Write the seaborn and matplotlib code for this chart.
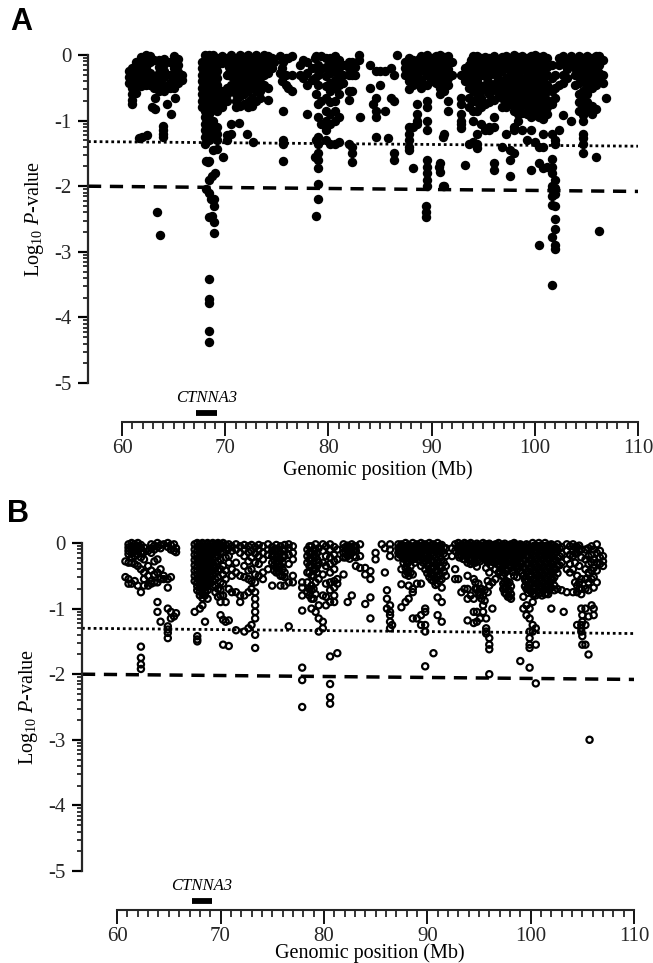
import numpy as np
import pandas as pd
import matplotlib
matplotlib.use('Agg')
import matplotlib.pyplot as plt
import seaborn as sns

# panel A, SNP positions (Mb) with the log10 P-values read at each position
a1_pos = [60.7, 61.0, 61.4, 61.8, 62.3, 62.7, 63.1, 63.6, 64.1, 64.6, 65.0, 65.4, 65.8,
          62.9, 63.2, 64.4, 65.1, 64.7, 61.6, 61.9, 62.4, 64.0, 63.4, 63.7]
a1_logp = [[-.25, -.33, -.42], [-.2, -.3, -.4, -.5, -.6, -.68, -.75], [-.1, -.2, -.3, -.38, -.48, -.58],
           [-.03, -.12, -.22, -.3, -.4, -.48], [0, -.08, -.18, -.3, -.38, -.46], [-.02, -.1, -.28, -.36, -.45],
           [-.08, -.32, -.42, -.5], [-.08, -.18, -.28, -.38, -.5, -.55], [-.06, -.14, -.24, -.34, -.47, -.55],
           [-.1, -.3, -.42, -.5], [-.02, -.1, -.2, -.32, -.42, -.5], [-.06, -.16, -.26, -.34, -.42], [-.3, -.38],
           [-.8], [-.65, -.83], [-.75], [-.65], [-.9], [-1.26], [-1.25], [-1.22], [-1.08, -1.14, -1.2, -1.25],
           [-2.4], [-2.75]]

a2_pos = [67.7, 68.0, 68.4, 68.8, 69.2, 68.1, 68.3, 68.8, 69.2, 69.8, 68.7, 69.0, 68.6, 68.9, 68.4]
a2_logp = [[-.1, -.2, -.3, -.4, -.5, -.6, -.7, -.8],
           [0, -.08, -.16, -.25, -.35, -.45, -.55, -.65, -.75, -.85, -.95, -1.05, -1.15, -1.25, -1.35],
           [0, -.1, -.2, -.3, -.4, -.5, -.6, -.7, -.8, -.9, -1.0, -1.1, -1.2, -1.3, -1.62, -1.9, -2.1, -2.47],
           [0, -.1, -.2, -.3, -.4, -.5, -.6, -.7, -.8, -1.0, -1.1, -1.2, -1.25],
           [-.05, -.15, -.25, -.35, -.45, -.55, -.65, -.75, -.85, -1.1, -1.2, -1.3],
           [-1.62, -2.05], [-1.63], [-1.45], [-1.43], [-1.56], [-1.85, -2.45], [-1.8],
           [-2.2], [-2.2, -2.3, -2.55, -2.72], [-3.42, -3.72, -3.78, -4.2, -4.37]]

a3_pos = [69.7, 70.2, 70.6, 71.0, 71.4, 71.8, 72.2, 72.6, 73.0, 73.4, 73.8, 74.1, 71.3, 72.1, 72.7]
a3_logp = [[-.02, -.12, -.55, -.65, -.8], [-.05, -.3, -.5, -.6, -.7, -1.22, -1.3], [0, -.12, -.22, -.32, -.45, -.55, -1.05, -1.2],
           [-.05, -.15, -.28, -.38, -.5, -.6, -.7, -.8], [0, -.1, -.2, -.3, -.4, -.52, -.62, -.78],
           [-.03, -.13, -.23, -.33, -.45, -.6, -.75], [0, -.1, -.2, -.3, -.45, -.55, -.72, -.8],
           [-.05, -.15, -.25, -.35, -.5, -.65, -.78], [0, -.1, -.2, -.3, -.42, -.55, -.7], [-.05, -.15, -.25, -.35, -.45, -.55, -.65],
           [0, -.1, -.2, -.3, -.45], [-.02, -.15, -.28, -.5, -.68], [-1.03], [-1.2], [-1.33]]

a4_pos = [74.5, 74.7, 75.3, 75.5, 75.6, 75.9, 76.1, 76.5, 77.9, 78.7, 78.8, 79.0, 79.3, 79.8, 78.4, 77.5, 77.2]
a4_logp = [[-.05, -.2], [-.1], [-.02, -.28], [-.2, -.4], [-.1, -.85, -1.3, -1.35, -1.62], [-.05, -.3, -.45], [-.05, -.5],
           [-.02, -.3, -.55], [-.9, -.1, -.28, -.45], [-1.55, -.35, -.05], [-1.3, -.02, -.2, -.6],
           [-.95, -.75, -1.25, -1.35, -1.5, -1.6, -1.72, -1.97, -2.2, -.15, -.3, -.45],
           [-.7, -1.05, -.02, -.22], [-.65, -.85, -1.0, -1.15, -1.3, -.05, -.18, -.32, -.48], [-.2, -.38], [-.08, -.35], [-.15, -.3]]

a5_pos = [80.2, 78.8, 80.6, 81.0, 81.4, 82.0, 82.3, 82.6, 83.0, 83.1, 84.0, 84.3, 84.6, 85.0, 85.5, 85.8, 86.1, 86.4, 86.6]
a5_logp = [[-.05, -.15, -.28, -.42, -.55, -.72, -.9, -1.05, -1.35], [-2.45],
           [-.02, -.12, -.25, -.38, -.5, -.7, -.85, -1.0, -1.35], [-.08, -.2, -.32, -.45, -.6, -.95, -1.32],
           [-.15, -.3, -.42], [-.2, -.3, -.55, -.68, -.1, -1.35], [-.1, -.3, -.55, -1.4, -1.5, -1.63], [-.3, -.18], [0, -.08],
           [-.95], [-.15, -.5], [-.75], [-.25, -.65, -.85, -.95, -1.25], [-.25, -.45], [-.25, -.85], [-1.27], [-.2, -.65],
           [-.3, -.7, -1.5, -1.6], [0]]

a6_pos = [87.4, 87.8, 88.2, 88.6, 89.0, 89.6, 90.0, 90.4, 90.8, 91.2, 91.6, 92.0, 89.5, 91.1, 90.7, 92.8]
a6_logp = [[-.1, -.2, -.3], [-.05, -.15, -.25, -.4, -.52, -1.1, -1.2, -1.3, -1.4, -1.45],
           [-.07, -.17, -.27, -.45, -1.72, -1.1], [-.1, -.3, -.42, -.75, -.9, -1.05, -1.0], [-.02, -.12, -.22, -.38, -.5],
           [0, -.1, -.2, -.3, -.45, -.7, -.8, -1.0, -1.15, -1.6, -1.7, -1.8, -1.9, -2.0], [-.05, -.15, -.25, -.4], [-.02, -.12, -.3, -.42],
           [0, -.1, -.2, -.35, -.5, -.6, -1.65, -1.78], [-.03, -.15, -.25, -.4, -.55, -1.2, -2.0], [-.02, -.12, -.22, -.35, -.45, -.7, -.85],
           [-.1, -.3], [-2.3, -2.4, -2.47], [-1.25, -2.0], [-1.7], [-.3, -.65, -.75, -.9, -1.0, -1.05, -1.12]]

a7_pos = [93.2, 93.6, 94.0, 94.4, 94.8, 95.2, 95.6, 96.0, 96.4, 96.8, 97.2, 97.6, 98.0, 98.4, 98.8, 99.2, 99.6, 100.0, 100.4, 100.8, 101.2]
a7_logp = [[-.2, -.3, -.4, -1.68], [-.15, -.25, -.35, -.5, -.65, -.8, -1.35], [-.02, -.12, -.22, -.32, -.45, -.55, -.7, -.85, -1.0, -1.32],
           [-.02, -.12, -.22, -.38, -.6, -.72, -.85, -1.2, -1.35, -1.42], [-.05, -.18, -.3, -.5, -.65, -.8, -1.05],
           [-.03, -.13, -.25, -.45, -.75, -1.15], [-.05, -.15, -.3, -.42, -.6, -.72, -1.1, -1.15], [-.02, -.12, -.22, -.5, -.68, -.95, -1.1, -1.65, -1.75],
           [-.08, -.2, -.35, -.45, -.58], [-.03, -.13, -.25, -.5, -.65, -.8, -1.4], [-.02, -.12, -.35, -.45, -.55, -.7, -.8, -1.2],
           [-.05, -.15, -.25, -.4, -.55, -.65, -.75, -1.45, -1.6, -1.85], [0, -.1, -.2, -.32, -.48, -.6, -.72, -.85, -1.1, -1.15, -1.5],
           [-.03, -.13, -.28, -.42, -.58, -.68, -.78, -.9, -1.0], [-.02, -.12, -.22, -.38, -.5, -.62, -.75, -.88, -1.15],
           [-.05, -.15, -.3, -.42, -.55, -.65, -.78, -.9, -1.3], [-.02, -.12, -.25, -.38, -.52, -.65, -.75, -.85, -.95, -1.15, -1.75],
           [0, -.1, -.22, -.32, -.45, -.58, -.7, -.8, -.92, -1.32], [-.03, -.15, -.28, -.4, -.52, -.65, -.75, -.85, -.95, -1.4, -1.65, -2.9],
           [-.02, -.12, -.25, -.38, -.5, -.6, -.72, -.82, -.98, -1.2, -1.4, -1.72], [-.05, -.18, -.3, -.45, -.55, -.68, -.8, -.9, -1.7]]

a8_pos = [101.7, 102.0, 102.3, 102.7, 103.1, 103.5, 103.9, 104.3, 104.7, 105.1, 105.5, 105.9, 106.2, 106.6, 106.9]
a8_logp = [[-.15, -.35, -.55, -.75, -1.2, -1.58, -1.7, -1.8, -2.0, -2.05, -2.15, -2.28, -2.78, -3.5], [-.3, -.5, -.65, -1.3, -1.35, -1.9, -2.03, -2.12, -2.3, -2.5, -2.65, -2.9, -2.95],
           [-.05, -.15, -.45, -1.15], [-.02, -.12, -.3, -.42, -.92], [-.08, -.22, -.35], [-.02, -.12, -1.0], [-.08, -.2, -.3, -.45],
           [-.02, -.12, -.22, -.32, -.42, -.6, -.72, -.85], [-.05, -.15, -.28, -.4, -.55, -.65, -.78, -.92, -1.0, -1.2, -1.27, -1.35, -1.5],
           [-.02, -.12, -.22, -.35, -.45, -.6, -.72, -.85], [-.05, -.15, -.28, -.4, -.5, -.78, -.9], [-.02, -.12, -.25, -.35, -.45, -.82, -1.55],
           [-.02, -.15, -.28, -.4, -2.68], [-.08, -.3, -.42], [-.65]]

# extra readings in the solid part of the A cloud
a9_pos = [70.4, 71.2, 72.0, 72.8, 73.6, 88.0, 88.8, 89.8, 90.6, 91.4, 93.8, 94.6, 95.4, 96.2, 97.0, 97.8, 98.6, 99.4, 100.2, 101.0, 104.5, 105.3, 106.0]
a9_logp = [[-.06, -.18, -.28], [-.1, -.22, -.33], [-.05, -.25, -.38], [-.1, -.2, -.3], [-.06, -.18, -.3],
           [-.1, -.22, -.35], [-.06, -.16, -.26], [-.08, -.18, -.35], [-.06, -.16, -.28], [-.08, -.18, -.3],
           [-.08, -.18, -.3, -.42], [-.08, -.28, -.45, -.6], [-.08, -.18, -.35, -.55], [-.07, -.17, -.3, -.42], [-.08, -.2, -.4, -.58],
           [-.1, -.2, -.32, -.48], [-.06, -.18, -.35, -.52, -.72, -.85], [-.08, -.2, -.35, -.48, -.6, -.72, -.85], [-.05, -.15, -.28, -.4, -.52, -.65, -.78, -.9],
           [-.08, -.2, -.32, -.45, -.58, -.7, -.85], [-.1, -.22, -.35], [-.08, -.2, -.32], [-.08, -.2, -.32]]

# panel B, same layout
b1_pos = [60.8, 61.1, 61.4, 61.7, 62.0, 62.3, 62.6, 63.0, 63.3, 63.6, 63.9, 64.2, 64.5, 64.9, 65.2, 65.5, 65.7]
b1_logp = [[-.28, -.52], [-.02, -.07, -.12, -.17, -.3, -.55, -.62], [0, -.05, -.1, -.16, -.22, -.3, -.62],
           [-.02, -.07, -.12, -.2, -.32, -.58], [0, -.05, -.11, -.17, -.35, -.65], [-.03, -.08, -.15, -.22, -.4, -.75, -1.58, -1.75, -1.85, -1.92],
           [-.07, -.14, -.25, -.45, -.55, -.65], [-.12, -.35, -.5, -.65], [-.02, -.08, -.15, -.42, -.58, -.62], [-.04, -.1, -.28, -.48, -.6],
           [0, -.06, -.25, -.45, -.6, -.9, -1.05], [-.03, -.08, -.4, -.55, -1.2], [-.02, -.5, -.55], [0, -.06, -.55, -.68, -1.0, -1.27, -1.32, -1.37, -1.45],
           [-.03, -.1, -.52, -1.05, -1.15], [-.02, -.12, -1.12], [-.08, -.14, -1.07]]

b2_pos = [67.5, 67.75, 68.0, 68.25, 68.5, 68.75, 69.0, 69.25, 69.5, 69.75, 70.0, 70.25, 70.5]
b2_logp = [[-.02, -.1, -.18, -.26, -.34, -.42, -.5, -.58, -1.05],
           [0, -.06, -.12, -.18, -.24, -.3, -.36, -.42, -.48, -.54, -.6, -.66, -.72, -1.42, -1.47, -1.5],
           [-.02, -.08, -.14, -.2, -.26, -.32, -.38, -.44, -.5, -.56, -.62, -.68, -.74, -.8, -1.0],
           [0, -.06, -.12, -.18, -.24, -.3, -.36, -.42, -.48, -.54, -.6, -.66, -.72, -.78, -.84, -.95],
           [-.02, -.08, -.14, -.2, -.26, -.32, -.38, -.44, -.5, -.56, -.62, -.68, -.74, -.8, -1.2],
           [0, -.06, -.12, -.18, -.24, -.3, -.36, -.42, -.48, -.54, -.6, -.66, -.72, -.85],
           [-.02, -.08, -.14, -.2, -.26, -.32, -.38, -.44, -.5, -.56, -.62],
           [0, -.06, -.12, -.18, -.24, -.3, -.36, -.42, -.5, -.58, -.66],
           [-.02, -.08, -.14, -.22, -.3, -.38, -.46, -.55, -.65, -.75],
           [0, -.06, -.12, -.2, -.28, -.42, -.52, -.7, -.82],
           [-.02, -.08, -.14, -.25, -.4, -.6, -.72, -.8, -.9, -1.1],
           [0, -.06, -.14, -.35, -.48, -.62, -.8, -1.17, -1.55], [-.03, -.1, -.22, -.42, -.55, -.9, -1.2]]

b3_pos = [70.8, 71.1, 71.5, 71.9, 72.3, 72.7, 73.0, 73.35, 73.7, 74.1, 74.6, 75.0, 75.4, 75.8, 76.2, 76.6, 77.0]
b3_logp = [[-.02, -.08, -.2, -.3, -.7, -1.18, -1.57], [-.05, -.12, -.4, -.5, -.75], [-.02, -.1, -.3, -.45, -.75, -1.33],
           [-.05, -.15, -.5, -.8, -.9], [-.03, -.1, -.2, -.35, -.52, -.8, -1.35], [-.05, -.14, -.28, -.42, -.55, -.75, -1.3], [-.03, -.12, -.22, -.4, -.58, -.7, -1.25],
           [-.06, -.16, -.3, -.48, -.6, -.75, -.85, -.95, -1.05, -1.15, -1.4, -1.6], [-.03, -.1, -.2, -.32, -.5], [-.05, -.15, -.25, -.45, -.55],
           [-.02, -.1, -.18, -.4], [-.06, -.12, -.2, -.3, -.65], [-.03, -.09, -.22, -.3, -.38, -.45], [-.05, -.15, -.25, -.35, -.5, -.65],
           [-.03, -.1, -.2, -.45, -.52, -.65], [-.02, -.08, -.18, -.32, -.6, -1.27], [-.05, -.15, -.25, -.5, -.6]]

b4_pos = [77.9, 78.4, 78.8, 79.2, 79.5, 79.9, 80.2, 80.6, 81.0, 81.3, 81.9, 82.3, 82.7, 83.1, 83.5, 84.0, 84.5, 85.0]
b4_logp = [[-.6, -.68, -.8, -1.03, -1.9, -2.09, -2.5], [-.1, -.2, -.3, -.45, -.6, -.75], [-.05, -.15, -.25, -.35, -.5, -.65, -.72, -.85, -1.0],
           [-.02, -.1, -.2, -.4, -.6, -.78, -1.05], [-.08, -.3, -.55, -.95, -1.15, -1.35], [-.02, -.12, -.3, -.48, -.8, -1.2, -1.3], [-.05, -.2, -.35, -.62, -.82, -.95],
           [-.02, -.1, -.22, -.32, -.45, -.6, -.72, -.9, -1.73, -2.15, -2.35, -2.45], [-.06, -.18, -.28, -.4, -.58, -.68, -.8, -.9], [-.1, -.25, -.55, -.62, -1.68],
           [-.02, -.08, -.15, -.22, -.48], [-.04, -.12, -.2, -.9], [-.02, -.08, -.14, -.8], [-.05, -.12, -.22, -.35], [-.02, -.2, -.38], [-.38, -.48, -.93], [-.43, -.55, -.83, -1.15], [-.15, -.25]]

b5_pos = [85.6, 85.9, 86.1, 86.4, 86.6, 87.2, 87.5, 87.9, 88.2, 88.6, 89.0, 89.4, 89.8, 90.2, 90.6, 91.0, 91.4, 91.8]
b5_logp = [[-.02], [-.08, -.45], [-.72, -.85, -1.0], [-.02, -.1, -.2, -.95, -1.05, -1.1, -1.2, -1.3], [-1.25], [-.02, -.08, -.15, -.22],
           [-.02, -.08, -.15, -.4, -.63, -.98], [0, -.06, -.14, -.22, -.38, -.48, -.9], [-.03, -.1, -.2, -.42, -.5, -.65, -.85],
           [0, -.08, -.25, -.48, -.7, -.75, -1.15], [-.02, -.1, -.2, -.62, -1.15], [0, -.06, -.14, -.22, -.35, -.62, -1.1, -1.25], [-.02, -.08, -.16, -.28, -.4, -1.0, -1.05, -1.25, -1.35, -1.88],
           [0, -.06, -.12, -.22, -.32, -.42, -.52], [-.02, -.1, -.18, -.28, -.38, -.5, -.58, -1.68], [0, -.08, -.16, -.3, -.42, -.52, -.62, -.83, -1.1],
           [-.03, -.12, -.25, -.38, -.55, -.68, -.9, -1.2], [-.08, -.2, -.35, -.5]]

b6_pos = [92.4, 92.7, 93.0, 93.3, 93.6, 93.9, 94.2, 94.5, 94.8, 95.1, 95.4, 95.7, 96.0, 96.3, 96.6, 96.9, 97.2, 97.5, 97.8, 98.1, 98.4, 98.7]
b6_logp = [[-.08, -.2], [-.02, -.12, -.4, -.55], [0, -.08, -.18, -.55], [-.03, -.1, -.2, -.75], [0, -.06, -.14, -.25, -.7],
           [-.02, -.08, -.16, -.3, -.5, -.7, -.85, -1.18], [0, -.06, -.12, -.22, -.32, -.8], [-.03, -.1, -.18, -.3, -.55, -.85, -1.05, -1.22],
           [-.01, -.07, -.14, -.24, -.36, -.7, -1.05, -1.2], [-.04, -.1, -.18, -.28, -.7, -.8, -1.15], [0, -.06, -.14, -.22, -.8, -.95, -1.05],
           [-.02, -.08, -.16, -.26, -.38, -1.15, -1.3, -1.35, -1.38], [-.01, -.07, -.14, -.24, -.45, -.65, -1.45, -1.55, -1.62, -2.0],
           [-.04, -.1, -.18, -.28, -.6, -1.0], [-.02, -.08, -.16, -.26, -.4, -.55], [0, -.06, -.14, -.24, -.34, -.45],
           [-.03, -.1, -.18, -.28, -.4, -.5], [-.01, -.07, -.14, -.24, -.34, -.46, -.6, -.68, -.76], [-.04, -.1, -.18, -.28, -.42, -.62, -.72, -.82],
           [-.02, -.08, -.16, -.26, -.38, -.66, -.78, -.85], [0, -.06, -.14, -.24, -.34, -.5], [-.03, -.1, -.18, -.28, -.4, -.52]]

b7_pos = [99.0, 99.3, 99.6, 99.9, 100.2, 100.5, 100.8, 101.1, 101.4, 101.7, 102.0, 102.3, 102.6, 103.0, 103.2, 103.5, 103.8]
b7_logp = [[-.02, -.1, -.18, -.3, -.42, -1.8], [-.05, -.14, -.24, -.36, -.5, -.82, -1.0], [-.02, -.1, -.2, -.32, -.45, -.6, -.7, -.95, -1.1],
           [-.06, -.14, -.26, -.38, -.5, -.65, -.72, -1.0, -1.15, -1.35, -1.45, -1.55, -1.6, -1.9], [0, -.08, -.18, -.3, -.42, -.55, -.68, -.78, -.9, -1.25, -1.35],
           [-.04, -.12, -.22, -.34, -.46, -.58, -.68, -.8, -1.3, -1.55, -2.14], [0, -.08, -.18, -.3, -.42, -.54, -.66, -.76], [-.04, -.12, -.22, -.34, -.46, -.58, -.7, -.8],
           [0, -.08, -.18, -.3, -.42, -.54, -.66, -.78], [-.04, -.12, -.22, -.34, -.46, -.58, -.7, -.78], [-.02, -.1, -.2, -.32, -.44, -.56, -.68, -1.0],
           [-.06, -.16, -.28, -.4, -.52, -.65, -.72], [-.02, -.1, -.22, -.34, -.46, -.7], [-.06, -.16, -.3, -.72], [-1.05], [-.02, -.12, -.25, -.4, -.75], [-.05, -.18, -.32, -.45]]

b8_pos = [104.1, 104.5, 104.9, 105.0, 105.3, 105.6, 105.7, 105.9, 106.1, 106.4, 106.7, 107.0]
b8_logp = [[-.02, -.1, -.2, -.4, -.75], [-.06, -.15, -.5, -.65, -.75, -1.25], [-.1, -.22, -.55, -.7, -.78, -1.0, -1.25, -1.3, -1.35],
           [-1.1, -1.2, -1.42, -1.55], [-.1, -.25, -.4, -.55, -.7, -1.0, -1.25, -1.55], [-.08, -.2, -.32, -.45, -.6, -.72, -1.12, -1.7],
           [-3.0], [-.05, -.18, -.3, -.42, -.55, -.95], [-.1, -.25, -.38, -.52, -.68, -1.0, -1.1], [-.02, -.15, -.3, -.42, -.6],
           [-.12, -.22, -.32], [-.2, -.28, -.35]]

# extra readings in the solid part of the B cloud
b9_pos = [75.2, 75.6, 76.0, 78.6, 79.0, 79.35, 82.1, 82.5, 82.9, 87.35, 87.7, 88.05, 88.4, 88.8, 89.2, 89.6, 90.0, 90.4, 90.8, 91.2, 91.6, 93.1, 93.45, 93.75, 94.05, 94.35, 94.65, 94.95, 95.25, 95.55, 95.85, 96.15, 96.45, 96.75, 97.05, 97.35, 97.65, 97.95, 98.25, 98.55, 98.85, 99.15, 99.45, 99.75, 100.05, 100.35, 100.65, 100.95, 101.25, 101.55, 101.85, 102.15, 102.45, 102.8, 104.3, 104.7]
b9_logp = [[-.1, -.18, -.26, -.34, -.42], [-.12, -.2, -.28, -.36, -.44], [-.1, -.2, -.3, -.4, -.5],
           [-.05, -.15, -.25, -.35, -.45, -.7, -.8], [-.1, -.2, -.3, -.4, -.5, -.7, -.85], [-.15, -.25, -.35, -.45],
           [-.06, -.14, -.22], [-.08, -.16, -.24], [-.05, -.12, -.2],
           [-.06, -.12, -.18], [-.05, -.11, -.18, -.24, -.3], [-.04, -.1, -.17, -.27, -.32, -.44], [-.06, -.12, -.16, -.26, -.35, -.45], [-.04, -.12, -.16, -.24, -.3],
           [-.06, -.14, -.18, -.26], [-.03, -.09, -.17, -.24, -.3], [-.05, -.11, -.18, -.24, -.34, -.46], [-.03, -.09, -.16, -.27, -.37, -.47, -.56], [-.06, -.14, -.23, -.33, -.44, -.55, -.64], [-.04, -.12, -.2, -.35, -.47, -.58], [-.07, -.16, -.3, -.44],
           [-.04, -.12, -.22], [-.03, -.08, -.16, -.24], [-.05, -.12, -.2], [-.03, -.09, -.17, -.26], [-.04, -.1, -.16, -.26], [-.06, -.12, -.2, -.3, -.6, -.7], [-.03, -.09, -.16, -.26, -.62, -.75], [-.05, -.12, -.2, -.7, -.85], [-.03, -.09, -.16, -.24, -.72, -.88], [-.05, -.11, -.2, -.3, -.58, -.75], [-.03, -.09, -.16, -.24, -.34], [-.05, -.12, -.2, -.3], [-.03, -.09, -.18, -.28], [-.05, -.12, -.22, -.32, -.44], [-.03, -.09, -.16, -.24, -.34, -.5, -.62, -.7], [-.05, -.12, -.2, -.3, -.4, -.58, -.68, -.78], [-.03, -.09, -.16, -.24, -.34, -.6, -.72, -.82], [-.05, -.12, -.2, -.3, -.44], [-.03, -.09, -.18, -.28, -.36], [-.06, -.14, -.24, -.36], [-.04, -.1, -.2, -.32, -.46], [-.06, -.14, -.26, -.4, -.56, -.66], [-.04, -.1, -.2, -.32, -.44, -.56, -.68, -.76], [-.06, -.14, -.24, -.36, -.48, -.62, -.74], [-.04, -.1, -.2, -.32, -.44, -.56, -.7, -.78], [-.06, -.14, -.24, -.36, -.48, -.6, -.72], [-.04, -.1, -.2, -.32, -.44, -.56, -.68, -.76], [-.06, -.14, -.24, -.36, -.48, -.6, -.72], [-.04, -.1, -.2, -.32, -.44, -.56, -.68, -.76], [-.06, -.14, -.24, -.36, -.48, -.6, -.7], [-.04, -.1, -.2, -.32, -.44, -.56], [-.06, -.14, -.26, -.4], [-.08, -.2, -.34], [-.06, -.16, -.3, -.6], [-.04, -.12, -.35, -.6, -.7]]

x_major = [60, 70, 80, 90, 100, 110]
y_major = [0, -1, -2, -3, -4, -5]
y_major_labels = ['0', '-1', '-2', '-3', '-4', '-5']
gene_name = 'CTNNA3'
gene_start, gene_end = 67.2, 69.2
dotted_a = [-1.32, -1.39]
dashed_a = [-2.0, -2.08]
dotted_b = [-1.3, -1.38]
dashed_b = [-2.0, -2.08]

sns.set_theme(style='ticks')
plt.rcParams['font.family'] = ['Liberation Serif', 'DejaVu Serif']
plt.rcParams['mathtext.fontset'] = 'custom'
plt.rcParams['mathtext.rm'] = 'Liberation Serif'
plt.rcParams['mathtext.it'] = 'Liberation Serif:italic'
plt.rcParams['mathtext.default'] = 'regular'
plt.rcParams['axes.unicode_minus'] = False


def make_frame(pos_lists, logp_lists):
    frames = []
    for pos, logp in zip(pos_lists, logp_lists):
        frames.append(pd.DataFrame({'pos': pos, 'logp': logp}).explode('logp'))
    df = pd.concat(frames)
    df['logp'] = df['logp'].astype(float)
    return df


def draw_panel(ax, df, letter, dotted, dashed, filled, left_px, letter_xy, label_xy, ylab_pad):
    if filled:
        sns.scatterplot(data=df, x='pos', y='logp', ax=ax, color='black', s=46, linewidth=0, clip_on=False, zorder=3)
    else:
        sns.scatterplot(data=df, x='pos', y='logp', ax=ax, s=20, fc='none', ec='black', linewidth=1.6, clip_on=False, zorder=3)
    ax.set_xlim(left_px, 110)
    ax.set_ylim(-5, 0)
    ax.plot([left_px, 110], dotted, color='black', lw=2, ls=(0, (1, 1.1)), zorder=2)
    ax.plot([left_px, 110.2], dashed, color='black', lw=2.5, ls=(0, (3.8, 2.5)), zorder=2)

    sns.despine(ax=ax)
    ax.spines['left'].set_linewidth(1.6)
    ax.spines['bottom'].set_linewidth(1.5)
    ax.spines['bottom'].set_position(('outward', 28))
    ax.spines['bottom'].set_bounds(60, 110)

    ax.set_xticks(x_major)
    ax.set_xticks(np.arange(60, 111, 1), minor=True)
    ax.set_yticks(y_major)
    ax.set_yticklabels(y_major_labels)
    minor_y = [d + np.log10(k / 10) for d in y_major[:-1] for k in range(2, 10)]
    ax.set_yticks(minor_y, minor=True)
    ax.tick_params(axis='x', which='major', length=10, width=1.3, labelsize=15, pad=2, color='black')
    ax.tick_params(axis='x', which='minor', length=5, width=1.1, color='black')
    ax.tick_params(axis='y', which='major', length=7, width=1.6, labelsize=15, pad=5, color='black')
    ax.tick_params(axis='y', which='minor', length=3.5, width=1.1, color='black')
    ax.set_xlabel('Genomic position (Mb)', fontsize=14.5, color='black')
    ax.xaxis.set_label_coords(label_xy[0], label_xy[1])
    ax.set_ylabel('Log$_{10}$ $\\mathit{P}$-value', fontsize=14.5, labelpad=ylab_pad, color='black')

    ax.plot([gene_start, gene_end], [-5.46, -5.46], color='black', lw=4.2, solid_capstyle='butt', clip_on=False)
    ax.text(68.2, -5.23, gene_name, style='italic', fontsize=12, ha='center', va='center', color='black')
    ax.figure.text(letter_xy[0], letter_xy[1], letter, family='Liberation Sans', weight='bold',
                   fontsize=22, ha='left', va='center', color='black')


fig = plt.figure(figsize=(6.53, 9.63), dpi=100)
W, H = 653, 963
ax_a = fig.add_axes([88 / W, 1 - 383 / H, (638 - 88) / W, 328 / H])
ax_b = fig.add_axes([82 / W, 1 - 871 / H, (634 - 82) / W, 328 / H])

df_a = make_frame([a1_pos, a2_pos, a3_pos, a4_pos, a5_pos, a6_pos, a7_pos, a8_pos, a9_pos],
                  [a1_logp, a2_logp, a3_logp, a4_logp, a5_logp, a6_logp, a7_logp, a8_logp, a9_logp])
df_b = make_frame([b1_pos, b2_pos, b3_pos, b4_pos, b5_pos, b6_pos, b7_pos, b8_pos, b9_pos],
                  [b1_logp, b2_logp, b3_logp, b4_logp, b5_logp, b6_logp, b7_logp, b8_logp, b9_logp])

draw_panel(ax_a, df_a, 'A', dotted_a, dashed_a, True, 56.7, (10 / W, 1 - 22 / H), (0.527, -0.235), 6)
draw_panel(ax_b, df_b, 'B', dotted_b, dashed_b, False, 56.6, (7 / W, 1 - 514 / H), (0.522, -0.22), 6)

fig.savefig('out.png', dpi=100)
